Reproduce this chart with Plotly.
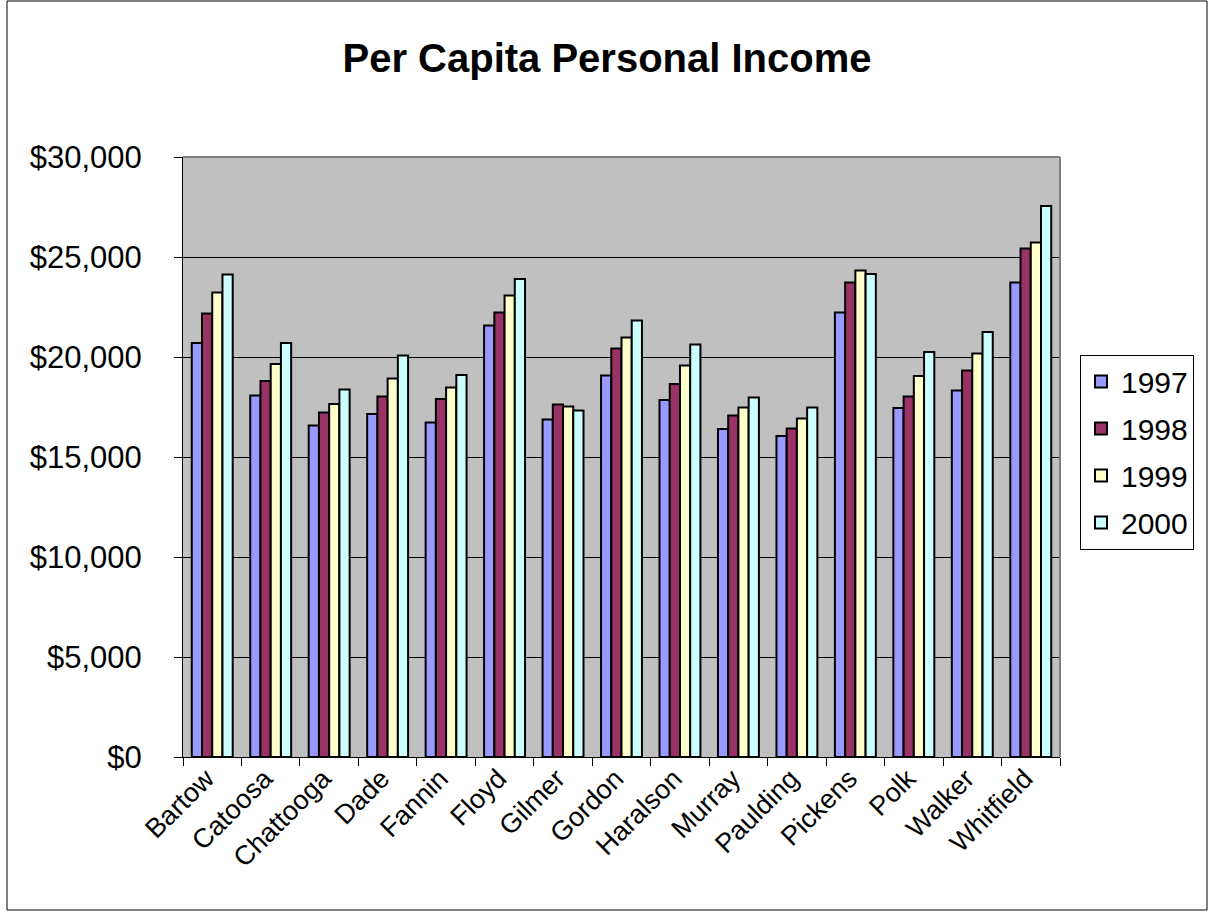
import plotly.graph_objects as go

counties = ["Bartow", "Catoosa", "Chattooga", "Dade", "Fannin", "Floyd", "Gilmer",
            "Gordon", "Haralson", "Murray", "Paulding", "Pickens", "Polk", "Walker",
            "Whitfield"]

income_1997 = [20700, 18080, 16580, 17150, 16730, 21570, 16880, 19080, 17850, 16400,
               16050, 22220, 17450, 18320, 23720]
income_1998 = [22180, 18800, 17220, 18030, 17900, 22230, 17620, 20430, 18650, 17070,
               16420, 23720, 18020, 19320, 25420]
income_1999 = [23220, 19650, 17650, 18930, 18480, 23070, 17520, 20970, 19580, 17470,
               16930, 24320, 19050, 20170, 25730]
income_2000 = [24130, 20700, 18370, 20070, 19100, 23900, 17320, 21830, 20630, 17980,
               17470, 24150, 20250, 21250, 27550]

years = ["1997", "1998", "1999", "2000"]
colors = ["#9999FF", "#993366", "#FFFFCC", "#CCFFFF"]
series = [income_1997, income_1998, income_1999, income_2000]

y_ticks = [0, 5000, 10000, 15000, 20000, 25000, 30000]
y_tick_text = ["$" + f"{v:,}" for v in y_ticks]

FONT = "Liberation Sans, Arial, sans-serif"

fig = go.Figure()
for name, vals, col in zip(years, series, colors):
    fig.add_trace(go.Bar(
        x=counties, y=vals, name=name, legendgroup=name,
        marker=dict(color=col, line=dict(color="black", width=2)),
    ))

W, H = 1209, 911
L, R, T, B = 183, 1060, 157, 757


def px(x):
    return (x - L) / (R - L)


def py(y):
    return (B - y) / (B - T)


fig.update_layout(
    width=W, height=H,
    margin=dict(l=L, r=W - R, t=T, b=H - B),
    paper_bgcolor="white",
    plot_bgcolor="#C0C0C0",
    barmode="group",
    bargap=0.3,
    bargroupgap=0,
    font=dict(family=FONT, color="black"),
    title=dict(
        text="<b>Per Capita Personal Income</b>",
        font=dict(size=40, family=FONT, color="black"),
        x=607 / W, xref="container", xanchor="center",
        y=1 - 58 / H, yref="container", yanchor="middle",
    ),
    legend=dict(
        x=px(1080), y=py(452), xanchor="left", yanchor="middle",
        bordercolor="black", borderwidth=1, bgcolor="white",
        font=dict(size=30, family=FONT),
        itemsizing="constant", tracegroupgap=5,
    ),
    showlegend=True,
)

fig.update_xaxes(
    type="category",
    tickangle=-45,
    tickfont=dict(size=27, family=FONT),
    ticks="outside", ticklen=8, tickcolor="black", tickwidth=1,
    tickson="boundaries",
    ticklabelstandoff=-6, ticklabelshift=-6,
    showline=True, linecolor="black", linewidth=1,
    showgrid=False,
)

fig.update_yaxes(
    range=[0, 30000],
    tickmode="array", tickvals=y_ticks, ticktext=y_tick_text,
    tickfont=dict(size=31, family=FONT),
    ticks="outside", ticklen=8, tickcolor="black", tickwidth=1,
    ticklabelstandoff=26,
    showline=True, linecolor="black", linewidth=1,
    showgrid=True, gridcolor="black", gridwidth=1,
    zeroline=False,
)

# grey frame on the top and right edges of the plot area
fig.add_shape(type="line", xref="paper", yref="paper", x0=0, x1=1, y0=1, y1=1,
              line=dict(color="#808080", width=2))
fig.add_shape(type="line", xref="paper", yref="paper", x0=1, x1=1, y0=0, y1=1,
              line=dict(color="#808080", width=2))

# outer chart border
fig.add_shape(type="rect", xref="paper", yref="paper",
              x0=px(7), x1=px(1207), y0=py(910), y1=py(1),
              line=dict(color="black", width=1), fillcolor="rgba(0,0,0,0)",
              layer="below")

fig.write_html("out.html")
